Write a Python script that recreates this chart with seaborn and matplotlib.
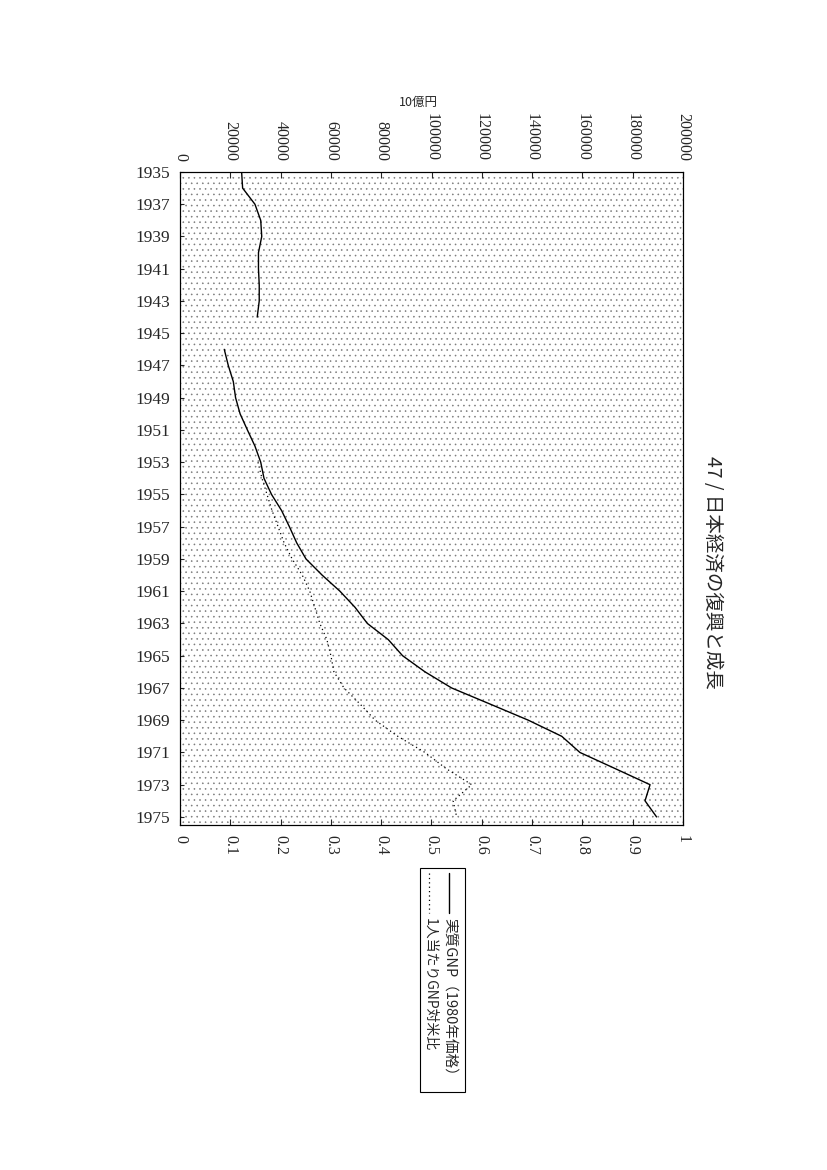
"""
Japan: recovery and growth of the economy (rotated page layout).
"""

import matplotlib
matplotlib.use('Agg')
import matplotlib.pyplot as plt
from matplotlib.patches import Rectangle
from matplotlib.lines import Line2D
import pandas as pd
import seaborn as sns

# real GNP (1980 prices, 10億円), war years missing
years_pre = list(range(1935, 1945))
gnp_pre = [24500, 24900, 29800, 32100, 32500, 31200, 31200, 31500, 31500, 30700]
years_post = list(range(1946, 1976))
gnp_post = [17600, 19200, 21200, 22100, 23900, 26800, 29800, 32100, 33400, 36400,
            40400, 43500, 46400, 50100, 56500, 63600, 69600, 74500, 82800, 88500,
            97400, 108000, 123300, 138500, 151800, 159000, 173000, 186900, 184900, 189500]

# per-capita GNP relative to the US
ratio_years = list(range(1953, 1976))
ratio_vals = [0.155, 0.163, 0.173, 0.183, 0.195, 0.207, 0.223, 0.243, 0.258, 0.268,
              0.278, 0.292, 0.300, 0.306, 0.326, 0.358, 0.388, 0.433, 0.487, 0.529,
              0.580, 0.543, 0.550]

year_ticks = list(range(1935, 1976, 2))
gnp_ticks = list(range(0, 200001, 20000))
ratio_ticks = [0, 0.1, 0.2, 0.3, 0.4, 0.5, 0.6, 0.7, 0.8, 0.9, 1]
ratio_ticklabels = ['0', '0.1', '0.2', '0.3', '0.4', '0.5', '0.6', '0.7', '0.8', '0.9', '1']

title = '47 / 日本経済の復興と成長'
unit_label = '10億円'
legend_labels = ['実質GNP（1980年価格）', '1人当たりGNP対米比']

sns.set_theme(style='white')
plt.rcParams['font.family'] = ['Liberation Serif', 'DejaVu Sans']
plt.rcParams['hatch.linewidth'] = 0.4
cjk = ['Noto Sans CJK JP', 'DejaVu Sans']

W, H = 827, 1170
fig = plt.figure(figsize=(W / 100, H / 100), dpi=100)
fig.patch.set_facecolor('white')

ax = fig.add_axes([180 / W, 1 - 825 / H, 503 / W, 653 / H])
ax.set_facecolor('white')
# stippled background of the plot area
ax.add_patch(Rectangle((0, 0), 1, 1, transform=ax.transAxes, facecolor='none',
                       edgecolor='#7a7a7a', hatch='...', lw=0, zorder=0))

gnp_df = pd.DataFrame({
    'year': years_pre + years_post,
    'gnp': gnp_pre + gnp_post,
    'period': ['pre'] * len(years_pre) + ['post'] * len(years_post),
})
sns.lineplot(data=gnp_df, x='gnp', y='year', units='period', estimator=None,
             orient='y', color='black', lw=1.0, ax=ax)

ax2 = ax.twiny()
ratio_df = pd.DataFrame({'year': ratio_years, 'ratio': ratio_vals})
sns.lineplot(data=ratio_df, x='ratio', y='year', estimator=None, orient='y',
             color='black', lw=0.9, ls=(0, (1, 2.5)), ax=ax2)

ax.set_xlim(0, 200000)
ax2.set_xlim(0, 1)
ax.set_ylim(1975.5, 1935)

ax.xaxis.tick_top()
ax.set_xticks(gnp_ticks)
ax.set_xticklabels([str(v) for v in gnp_ticks])
ax.set_yticks(year_ticks)
ax.set_yticklabels([str(y) for y in year_ticks])
ax.tick_params(axis='x', top=True, bottom=False, labeltop=True, labelbottom=False,
               direction='in', length=4, width=0.8, labelrotation=-90, pad=8, labelsize=11.5)
ax.tick_params(axis='y', left=True, direction='in', length=3, width=0.8, pad=7, labelsize=12.5)

ax2.xaxis.tick_bottom()
ax2.set_xticks(ratio_ticks)
ax2.set_xticklabels(ratio_ticklabels)
ax2.tick_params(axis='x', bottom=True, top=False, labelbottom=True, labeltop=False,
                direction='in', length=4, width=0.8, labelrotation=-90, pad=7, labelsize=11.5)

for a in (ax, ax2):
    a.set_xlabel('')
    a.set_ylabel('')
    for s in a.spines.values():
        s.set_color('black')
        s.set_linewidth(0.8)

fig.text(418 / W, 1 - 102 / H, unit_label, ha='center', va='center',
         fontsize=9, family=cjk)

fig.text(712 / W, 1 - 572 / H, title, rotation=-90, ha='center', va='center',
         fontsize=14, family=cjk)

# legend, drawn by hand in the rotated orientation
fig.add_artist(Rectangle((420 / W, 1 - 1092 / H), 45 / W, 224 / H, transform=fig.transFigure,
                         fill=False, lw=0.8, ec='black'))
fig.add_artist(Line2D([449 / W, 449 / W], [1 - 873 / H, 1 - 913 / H], color='black',
                      lw=1.0, transform=fig.transFigure))
fig.add_artist(Line2D([429 / W, 429 / W], [1 - 873 / H, 1 - 913 / H], color='black',
                      lw=0.9, ls=(0, (1, 2.5)), transform=fig.transFigure))
fig.text(450 / W, 1 - 918 / H, legend_labels[0], rotation=-90, ha='center', va='top',
         fontsize=10.5, family=cjk)
fig.text(430 / W, 1 - 918 / H, legend_labels[1], rotation=-90, ha='center', va='top',
         fontsize=10, family=cjk)

fig.savefig('out.png', dpi=100)
